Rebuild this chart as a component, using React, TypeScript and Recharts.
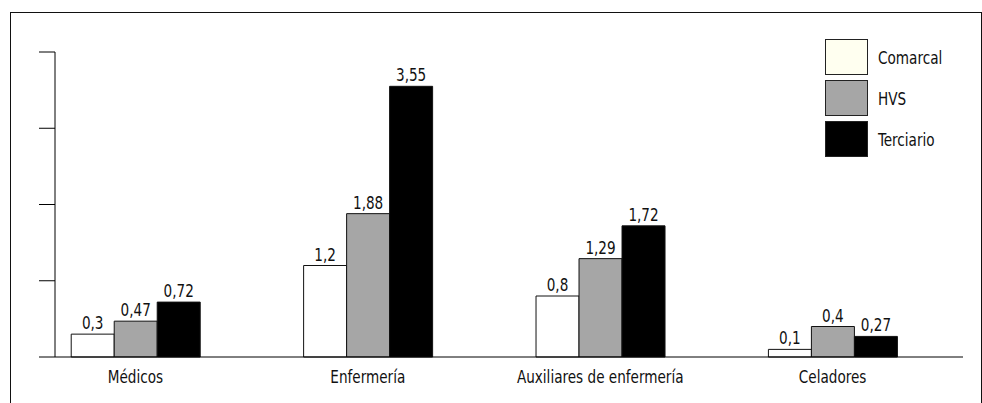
import React from 'react';
import { BarChart, Bar, XAxis, YAxis, Legend, LabelList } from 'recharts';

// values
const categories = ['Médicos', 'Enfermería', 'Auxiliares de enfermería', 'Celadores'];
const comarcal = [0.3, 1.2, 0.8, 0.1];
const hvs = [0.47, 1.88, 1.29, 0.4];
const terciario = [0.72, 3.55, 1.72, 0.27];
const yTicks = [0, 1, 2, 3, 4];

const series = [
  { key: 'comarcal', name: 'Comarcal', fill: '#ffffff', swatch: '#fffff0' },
  { key: 'hvs', name: 'HVS', fill: '#a6a6a6', swatch: '#a6a6a6' },
  { key: 'terciario', name: 'Terciario', fill: '#000000', swatch: '#000000' },
];

const data = categories.map((name, i) => ({
  idx: i,
  name,
  comarcal: comarcal[i],
  hvs: hvs[i],
  terciario: terciario[i],
}));

// no condensed Helvetica available, so squeeze DejaVu Condensed a bit
const FONT = "'DejaVu Sans Condensed', 'DejaVu Sans', sans-serif";
const FONT_SIZE = 18;
const SQUEEZE = 0.84;

const formatValue = (v: any) => String(v).replace('.', ',');

const CategoryTick = (props: any) => {
  const { x, y, payload } = props;
  return (
    <text
      transform={`translate(${x},${y}) scale(${SQUEEZE},1)`}
      textAnchor="middle"
      dy="0.71em"
      fontFamily={FONT}
      fontSize={FONT_SIZE}
      fill="#111"
    >
      {categories[payload.value] ?? ''}
    </text>
  );
};

const ValueLabel = (props: any) => {
  const { x, y, width, value } = props;
  return (
    <text
      transform={`translate(${x + width / 2},${y - 5}) scale(${SQUEEZE},1)`}
      textAnchor="middle"
      fontFamily={FONT}
      fontSize={FONT_SIZE}
      fill="#111"
    >
      {formatValue(value)}
    </text>
  );
};

const LegendBox = () => (
  <div style={{ fontFamily: FONT, fontSize: FONT_SIZE, color: '#111' }}>
    {series.map((s) => (
      <div key={s.key} style={{ display: 'flex', alignItems: 'center', marginBottom: 5 }}>
        <div
          style={{
            width: 41,
            height: 34,
            background: s.swatch,
            border: '1px solid #222',
            marginRight: 10,
          }}
        />
        <span
          style={{
            display: 'inline-block',
            transform: `scaleX(${SQUEEZE})`,
            transformOrigin: 'left center',
          }}
        >
          {s.name}
        </span>
      </div>
    ))}
  </div>
);

const App = () => {
  return (
    <div
      style={{
        position: 'absolute',
        left: 10,
        top: 12,
        width: 970,
        height: 400,
        border: '1px solid #111',
        background: '#fff',
      }}
    >
      <BarChart
        width={960}
        height={390}
        data={data}
        margin={{ top: 39, right: 8, left: 0, bottom: 0 }}
        barSize={43}
        barGap={0}
      >
        <XAxis
          type="number"
          dataKey="idx"
          domain={[-0.346, 3.561]}
          ticks={[0, 1, 2, 3]}
          interval={0}
          tickLine={false}
          tickMargin={7}
          height={46}
          axisLine={{ stroke: '#000', strokeWidth: 1 }}
          tick={<CategoryTick />}
        />
        <YAxis
          width={44}
          domain={[0, 4]}
          ticks={yTicks}
          tickSize={16}
          tickFormatter={() => ''}
          axisLine={{ stroke: '#000', strokeWidth: 1 }}
          tickLine={{ stroke: '#000', strokeWidth: 1 }}
        />
        <Legend
          layout="vertical"
          align="center"
          verticalAlign="middle"
          content={<LegendBox />}
          wrapperStyle={{ position: 'absolute', left: 814, top: 26, width: 150 }}
        />
        {series.map((s) => (
          <Bar
            key={s.key}
            dataKey={s.key}
            name={s.name}
            fill={s.fill}
            stroke="#111"
            strokeWidth={1}
            isAnimationActive={false}
          >
            <LabelList dataKey={s.key} content={<ValueLabel />} />
          </Bar>
        ))}
      </BarChart>
    </div>
  );
};

export default App;
